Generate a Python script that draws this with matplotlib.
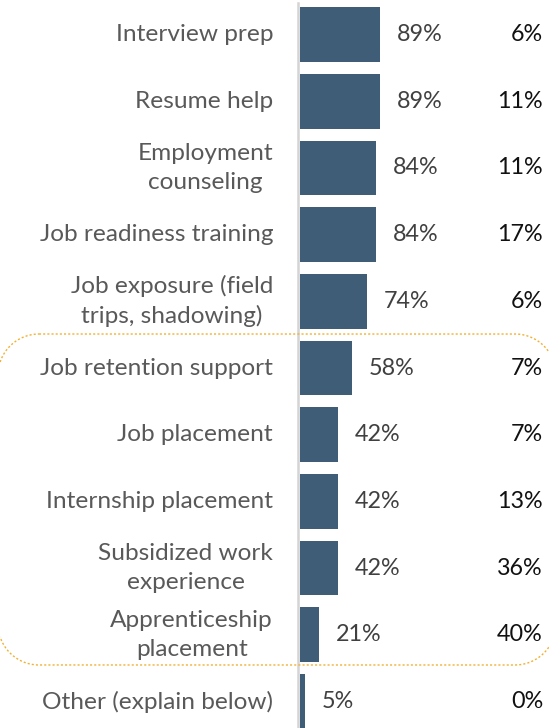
import matplotlib
matplotlib.use("Agg")
import numpy as np
import matplotlib.pyplot as plt
from matplotlib.lines import Line2D
from matplotlib.transforms import blended_transform_factory

categories = [
    "Interview prep",
    "Resume help",
    "Employment\ncounseling",
    "Job readiness training",
    "Job exposure (field\ntrips, shadowing)",
    "Job retention support",
    "Job placement",
    "Internship placement",
    "Subsidized work\nexperience",
    "Apprenticeship\nplacement",
    "Other (explain below)",
]
offered = [89, 89, 84, 84, 74, 58, 42, 42, 42, 21, 5]
second_col = [6, 11, 11, 17, 6, 7, 7, 13, 36, 40, 0]

plt.rcParams["font.family"] = ["Lato", "DejaVu Sans"]

W, H = 549, 728
fig = plt.figure(figsize=(5.49, 7.28), dpi=100)
ax = fig.add_axes([300 / W, 0, 249 / W, 1])

rows = list(range(len(categories)))
ax.barh(rows, offered, height=0.82, color="#3f5d76", edgecolor="none")
ax.set_xlim(0, 249 / 0.9)
ax.set_ylim(10.397, -0.517)
ax.axis("off")

# value labels next to bars
for r, v in zip(rows, offered):
    ax.annotate(f"{v}%", (v, r), xytext=(12.2, 0), textcoords="offset points",
                va="center", ha="left", fontsize=16.8, color="#404040")

# right-hand column
right_tr = blended_transform_factory(ax.transAxes, ax.transData)
for r, v in zip(rows, second_col):
    ax.text((543 - 300) / 249, r, f"{v}%", transform=right_tr,
            va="center", ha="right", fontsize=16.8, color="#111111")

# category labels on the left
left_tr = blended_transform_factory(fig.transFigure, ax.transData)
for r, c in zip(rows, categories):
    fig.text(273 / W, r, c, transform=left_tr, va="center", ha="right",
             multialignment="center", fontsize=17.6, color="#595959",
             linespacing=1.45)

# axis line
fig.add_artist(Line2D([298 / W, 298 / W], [0, 1 - 3 / H], transform=fig.transFigure,
                      color="#d4d4d4", lw=1.8))

# dotted rounded box around the middle group (pixel coords, top origin),
# drawn as an open line so nothing gets traced along the canvas edge
def rounded_rect(x0, x1, y0, y1, rad, n=40):
    t = np.linspace(0, np.pi / 2, n)
    pts = []
    pts.append(np.column_stack([np.linspace(x0 + rad, x1 - rad, n), np.full(n, y0)]))
    pts.append(np.column_stack([x1 - rad + rad * np.sin(t), y0 + rad - rad * np.cos(t)]))
    pts.append(np.column_stack([np.full(n, x1), np.linspace(y0 + rad, y1 - rad, n)]))
    pts.append(np.column_stack([x1 - rad + rad * np.cos(t), y1 - rad + rad * np.sin(t)]))
    pts.append(np.column_stack([np.linspace(x1 - rad, x0 + rad, n), np.full(n, y1)]))
    pts.append(np.column_stack([x0 + rad - rad * np.sin(t), y1 - rad + rad * np.cos(t)]))
    pts.append(np.column_stack([np.full(n, x0), np.linspace(y1 - rad, y0 + rad, n)]))
    pts.append(np.column_stack([x0 + rad - rad * np.cos(t), y0 + rad - rad * np.sin(t)]))
    return np.vstack(pts)

p = rounded_rect(-2, 556, 334, 665, 41)
p[(p[:, 0] < 0) | (p[:, 0] > W)] = np.nan
fig.add_artist(Line2D(p[:, 0] / W, 1 - p[:, 1] / H, transform=fig.transFigure,
                      color="#f2b134", lw=1.0, linestyle=(0, (1.5, 1.5))))

fig.savefig("out.png", dpi=100)
